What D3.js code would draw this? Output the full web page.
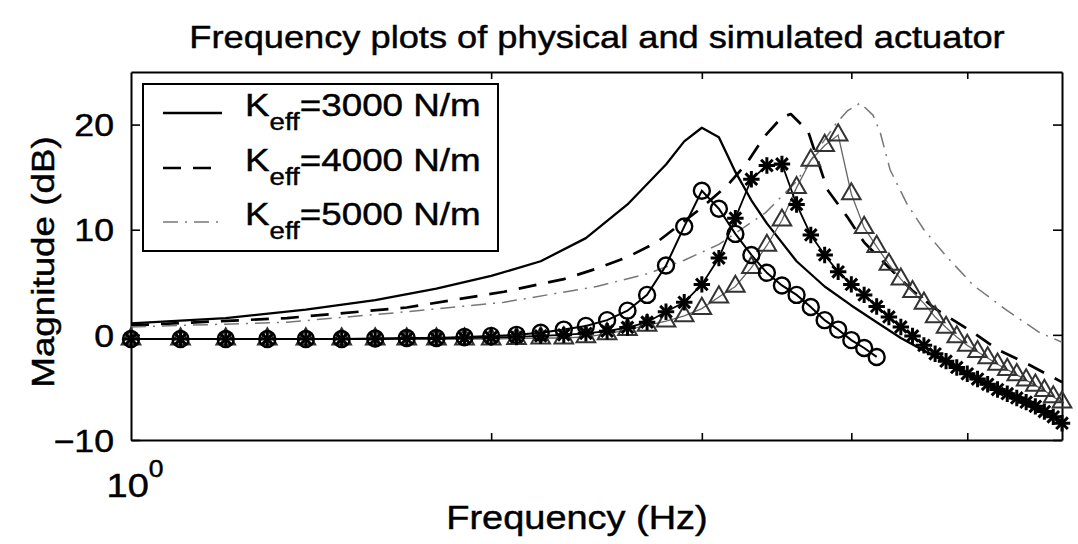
<!DOCTYPE html>
<html><head><meta charset="utf-8">
<script src="https://cdn.jsdelivr.net/npm/d3@7"></script>
<style>
body{margin:0;background:#fff}
svg{display:block}
text{font-family:"Liberation Sans",Arial,Helvetica,sans-serif;fill:#000;stroke:#000;stroke-width:0.45px}
</style>
</head><body>
<svg id="chart" width="1078" height="544"></svg>
<script>
// Simulated responses (lines), frequency in Hz, magnitude in dB
const sim3000Freq = [1.0,1.2,1.4,1.6,1.8,2.0,2.2,2.4,2.6,2.8,2.9,3.0,3.1,3.2,3.3,3.4,3.6,3.8,4.0,4.2,4.4,4.6,4.8,5.0,5.2,5.4,5.6,5.8,6.0];
const sim3000Db   = [1.1,1.6,2.4,3.3,4.4,5.6,7.0,9.2,12.4,16.2,18.4,19.7,18.8,15.5,12.8,10.6,7.0,4.6,2.8,1.2,-0.3,-1.5,-2.6,-3.6,-4.6,-5.5,-6.4,-7.3,-8.2];

const sim4000Freq = [1.0,1.35,1.7,2.05,2.3,2.45,2.6,2.75,3.0,3.15,3.27,3.38,3.5,3.56,3.68,3.82,3.97,4.1,4.3,4.5,4.7,5.06,5.3,5.6,6.0];
const sim4000Db   = [0.9,1.6,2.6,4.1,5.3,6.3,7.4,8.8,12.1,14.2,16.3,18.8,20.7,21.0,19.4,13.8,11.2,8.8,6.4,4.2,2.5,0.2,-1.4,-2.7,-4.5];

const sim5000Freq = [1.0,1.35,1.7,2.05,2.45,2.7,2.9,3.1,3.39,3.6,3.77,3.89,3.97,4.07,4.17,4.23,4.31,4.45,4.6,4.8,5.06,5.4,5.75,6.0];
const sim5000Db   = [0.75,1.2,2.2,3.1,4.6,5.8,7.1,8.6,11.6,14.6,18.0,20.2,21.3,22.05,20.9,19.2,15.7,12.5,10.0,7.5,4.7,2.3,0.2,-0.7];

// Measured responses (markers)
const phys3000Freq = [1.0,1.1,1.2,1.3,1.4,1.5,1.6,1.7,1.8,1.9,2.0,2.1,2.2,2.3,2.4,2.5,2.6,2.7,2.8,2.9,3.0,3.1,3.2,3.3,3.4,3.5,3.6,3.7,3.8,3.9,4.0,4.1,4.2];
const phys3000Db   = [-0.4,-0.4,-0.4,-0.4,-0.4,-0.4,-0.35,-0.3,-0.3,-0.2,-0.1,0.0,0.2,0.5,0.85,1.4,2.3,3.8,6.6,10.3,13.7,12.0,9.6,7.6,5.9,4.7,3.8,2.65,1.4,0.5,-0.5,-1.25,-2.1];

const physFreq = [1.0,1.1,1.2,1.3,1.4,1.5,1.6,1.7,1.8,1.9,2.0,2.1,2.2,2.3,2.4,2.5,2.6,2.7,2.8,2.9,3.0,3.1,3.2,3.3,3.4,3.5,3.6,3.7,3.8,3.9,4.0,4.1,4.2,4.3,4.4,4.5,4.6,4.7,4.8,4.9,5.0,5.1,5.2,5.3,5.4,5.5,5.6,5.7,5.8,5.9,6.0];
const phys4000Db = [-0.4,-0.4,-0.4,-0.4,-0.4,-0.4,-0.4,-0.35,-0.35,-0.3,-0.25,-0.2,-0.1,0.0,0.15,0.35,0.7,1.2,2.2,3.1,4.8,7.3,11.1,14.8,16.1,16.25,12.4,9.5,7.6,6.0,4.8,3.8,2.7,1.7,0.75,-0.1,-1.0,-1.8,-2.5,-3.1,-3.7,-4.2,-4.7,-5.2,-5.6,-6.0,-6.4,-6.8,-7.3,-7.8,-8.4];
const phys5000Db = [-0.4,-0.4,-0.4,-0.4,-0.4,-0.4,-0.4,-0.4,-0.4,-0.4,-0.4,-0.35,-0.3,-0.3,-0.2,0.1,0.5,0.9,1.3,1.8,2.5,3.6,4.6,6.4,8.5,10.9,14.0,16.6,18.0,19.0,13.4,10.2,8.4,6.7,5.3,4.1,3.0,1.7,0.7,-0.2,-1.0,-1.6,-2.2,-2.8,-3.3,-3.8,-4.3,-4.8,-5.3,-5.9,-6.4];

const yTicks = [-10,0,10,20];
const xMinorTicks = [2,3,4,5];
const legendLabels = ["3000","4000","5000"];

const titleText = "Frequency plots of physical and simulated actuator";
const xLabel = "Frequency (Hz)";
const yLabel = "Magnitude (dB)";

const plot = {left:131, right:1062, top:72, bottom:440};
const SX = 1.15; // horizontal stretch of glyphs

const svg = d3.select("#chart");
const x = d3.scaleLog().domain([1,6]).range([plot.left, plot.right]);
const y = d3.scaleLinear().domain([-10,25]).range([plot.bottom, plot.top]);

function stretchText(sel){
  sel.each(function(){
    const t = d3.select(this);
    const tx = +t.attr("x") || 0, ty = +t.attr("y") || 0;
    t.attr("x",0).attr("y",0).attr("transform",`translate(${tx},${ty}) scale(${SX},1)`);
  });
}

// Axes (ticks point inward, box on all four sides)
const axL = svg.append("g").attr("transform",`translate(${plot.left},0)`)
  .call(d3.axisLeft(y).tickValues(yTicks).tickSizeInner(-9).tickSizeOuter(0).tickPadding(17).tickFormat(d=> d<0 ? "\u2212"+Math.abs(d) : d));
const axR = svg.append("g").attr("transform",`translate(${plot.right},0)`)
  .call(d3.axisRight(y).tickValues(yTicks).tickSizeInner(-9).tickSizeOuter(0).tickFormat(""));
const axB = svg.append("g").attr("transform",`translate(0,${plot.bottom})`)
  .call(d3.axisBottom(x).tickValues(xMinorTicks).tickSizeInner(-7).tickSizeOuter(0).tickFormat(""));
const axT = svg.append("g").attr("transform",`translate(0,${plot.top})`)
  .call(d3.axisTop(x).tickValues(xMinorTicks).tickSizeInner(-7).tickSizeOuter(0).tickFormat(""));
[axL,axR,axB,axT].forEach(a=>{
  a.select(".domain").attr("stroke","#000").attr("stroke-width",2);
  a.selectAll(".tick line").attr("stroke","#000").attr("stroke-width",1.6);
});
axL.selectAll(".tick text").attr("font-size",31).attr("font-family",null).attr("dy","0.36em");
stretchText(axL.selectAll(".tick text"));

// 10^0 label under the left edge
const decade = svg.append("text").attr("font-size",33).attr("text-anchor","middle")
  .attr("transform",`translate(${x(1)+4},${plot.bottom+57}) scale(${SX},1)`);
decade.append("tspan").text("10");
decade.append("tspan").attr("dy",-20).attr("font-size",23).text("0");

// Titles
svg.append("text").attr("font-size",31.5).attr("text-anchor","middle")
  .attr("transform",`translate(597,48) scale(${SX},1)`).text(titleText);
svg.append("text").attr("font-size",33).attr("text-anchor","middle")
  .attr("transform",`translate(577,529) scale(${SX},1)`).text(xLabel);
svg.append("text").attr("font-size",32).attr("text-anchor","middle")
  .attr("transform",`translate(54,262) rotate(-90) scale(${SX},1)`).text(yLabel);

// Lines
const line = d3.line().x(d=>x(d[0])).y(d=>y(d[1]));
const gLines = svg.append("g");
const styles = [
  {freq:sim3000Freq, db:sim3000Db, stroke:"#000", width:2.3, dash:null},
  {freq:sim4000Freq, db:sim4000Db, stroke:"#000", width:2.7, dash:"18,12"},
  {freq:sim5000Freq, db:sim5000Db, stroke:"#777", width:1.5, dash:"15,7,2,7"}
];
styles.forEach(s=>{
  gLines.append("path").datum(d3.zip(s.freq,s.db)).attr("d",line)
    .attr("fill","none").attr("stroke",s.stroke).attr("stroke-width",s.width)
    .attr("stroke-dasharray",s.dash).attr("stroke-linejoin","round");
});

// Measured data: connecting lines + markers
const pts3 = d3.zip(phys3000Freq, phys3000Db);
const pts4 = d3.zip(physFreq, phys4000Db);
const pts5 = d3.zip(physFreq, phys5000Db);
const gMarks = svg.append("g");
gMarks.append("path").datum(pts5).attr("d",line).attr("fill","none").attr("stroke","#666").attr("stroke-width",1.3);
gMarks.append("path").datum(pts4).attr("d",line).attr("fill","none").attr("stroke","#000").attr("stroke-width",1.8);
gMarks.append("path").datum(pts3).attr("d",line).attr("fill","none").attr("stroke","#000").attr("stroke-width",2);

const tri = d3.symbol().type(d3.symbolTriangle).size(150);
gMarks.append("g").selectAll("path").data(pts5).join("path")
  .attr("transform",d=>`translate(${x(d[0])},${y(d[1])})`).attr("d",tri)
  .attr("fill","none").attr("stroke","#333").attr("stroke-width",2);

const plus = d3.symbol().type(d3.symbolPlus).size(90);
const times = d3.symbol().type(d3.symbolTimes).size(90);
const gStar = gMarks.append("g").selectAll("g").data(pts4).join("g")
  .attr("transform",d=>`translate(${x(d[0])},${y(d[1])})`);
gStar.append("path").attr("d",plus).attr("fill","none").attr("stroke","#000").attr("stroke-width",3);
gStar.append("path").attr("d",times).attr("fill","none").attr("stroke","#000").attr("stroke-width",3);

gMarks.append("g").selectAll("circle").data(pts3).join("circle")
  .attr("cx",d=>x(d[0])).attr("cy",d=>y(d[1])).attr("r",8)
  .attr("fill","none").attr("stroke","#000").attr("stroke-width",2.4);

// Legend
const lg = svg.append("g");
lg.append("rect").attr("x",143).attr("y",84).attr("width",355).attr("height",167)
  .attr("fill","#fff").attr("stroke","#000").attr("stroke-width",2);
const rowY = [113,168,222];
legendLabels.forEach((lab,i)=>{
  const s = styles[i];
  lg.append("line").attr("x1",163).attr("x2",222).attr("y1",rowY[i]).attr("y2",rowY[i])
    .attr("stroke",s.stroke).attr("stroke-width",s.width).attr("stroke-dasharray",s.dash);
  const t = lg.append("text").attr("font-size",32)
    .attr("transform",`translate(245,${rowY[i]+3}) scale(${SX},1)`);
  t.append("tspan").text("K");
  t.append("tspan").attr("font-size",24).attr("dy",14).text("eff");
  t.append("tspan").attr("dy",-14).text(`=${lab} N/m`);
});
</script>
</body></html>
